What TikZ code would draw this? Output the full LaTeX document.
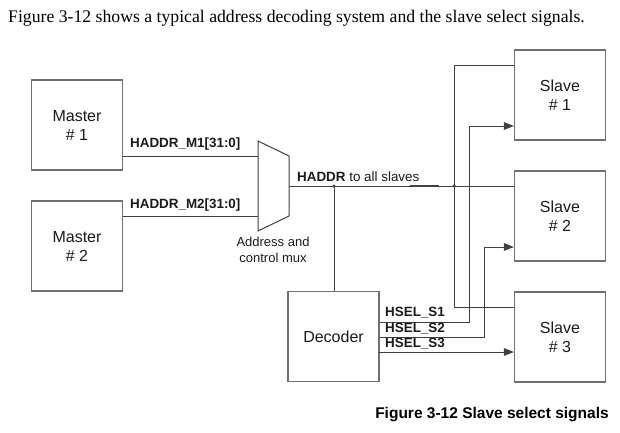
\documentclass[tikz,border=0pt]{standalone}
\usepackage{fontspec}
\setmainfont{Liberation Serif}
\setsansfont{Liberation Sans}
\usetikzlibrary{arrows.meta}
\definecolor{boxc}{HTML}{707070}
\definecolor{linec}{HTML}{404040}
\definecolor{txtc}{HTML}{1A1A1A}
\begin{document}
\begin{tikzpicture}[x=1pt,y=-1pt,
  blk/.style={draw=boxc,line width=1.1pt,minimum width=91pt,minimum height=90pt,inner sep=0pt,
    align=center,font=\sffamily\fontsize{16}{19}\selectfont,text=txtc},
  wire/.style={draw=linec,line width=1pt},
  arr/.style={wire,-{Triangle[length=10pt,width=7.5pt]}},
  sig/.style={font=\sffamily\bfseries\fontsize{13.4}{15}\selectfont,text=txtc,inner sep=0pt},
  dot/.style={circle,fill=linec,inner sep=0pt,minimum size=3.5pt}]
\useasboundingbox (0,0) rectangle (620,432);
\node[anchor=west,inner sep=0pt,font=\fontsize{17.7}{20}\selectfont,text=black] (title) at (8,18)
  {Figure 3-12 shows a typical address decoding system and the slave select signals.};
% blocks
\node[blk] (m1) at (77,125) {Master\\\# 1};
\node[blk] (m2) at (77,246) {Master\\\# 2};
\node[blk] (s1) at (560,95) {Slave\\\# 1};
\node[blk] (s2) at (560,216) {Slave\\\# 2};
\node[blk] (s3) at (560,337) {Slave\\\# 3};
\node[blk] (dec) at (333.5,336.5) {Decoder};
% mux
\coordinate (mtl) at (258,141);
\coordinate (mtr) at (289,156);
\coordinate (mbr) at (289,216);
\coordinate (mbl) at (258,231);
\draw[draw=linec,line width=1pt] (mtl) -- (mtr) -- (mbr) -- (mbl) -- cycle;
\coordinate (mi1) at (258,156);
\coordinate (mi2) at (258,216);
\coordinate (mo) at (289,186);
\node[align=center,font=\sffamily\fontsize{13}{15.5}\selectfont,text=txtc,inner sep=0pt] (muxl) at (273,250) {Address and\\control mux};
% master -> mux
\draw[wire] (m1.east |- mi1) -- (mi1);
\draw[wire] (m2.east |- mi2) -- (mi2);
\node[sig,anchor=west] (l1) at (130,144) {HADDR\_M1[31:0]};
\node[sig,anchor=west] (l2) at (130,205) {HADDR\_M2[31:0]};
% HADDR bus
\coordinate (d1) at (334,186);
\coordinate (d2) at (454,186);
\draw[wire] (mo) -- (mo -| s2.west);
\draw[draw=linec,line width=1.8pt] (410,186) -- (439,186);
\node[anchor=west,inner sep=0pt,font=\sffamily\fontsize{13.4}{15}\selectfont,text=txtc] (hl) at (297,177) {\textbf{HADDR} to all slaves};
\draw[wire] (d1) -- (d1 |- dec.north);
\coordinate (t1) at (454,65);
\coordinate (t3) at (454,307);
\draw[wire] (t1 -| s1.west) -- (t1) -- (t3) -- (t3 -| s3.west);
\node[dot] at (d1) {};
\node[dot] at (d2) {};
% HSEL
\coordinate (h1) at (469,322);
\coordinate (h1t) at (469,126);
\coordinate (h2) at (484,337);
\coordinate (h2t) at (484,247);
\coordinate (h3) at (379,352);
\draw[arr] (dec.east |- h1) -- (h1) -- (h1t) -- (h1t -| s1.west);
\draw[arr] (dec.east |- h2) -- (h2) -- (h2t) -- (h2t -| s2.west);
\draw[arr] (h3) -- (h3 -| s3.west);
\node[sig,anchor=west] (hs1) at (385,313) {HSEL\_S1};
\node[sig,anchor=west] (hs2) at (385,328.5) {HSEL\_S2};
\node[sig,anchor=west] (hs3) at (385,343.5) {HSEL\_S3};
% caption
\node[inner sep=0pt,font=\sffamily\bfseries\fontsize{15.5}{18}\selectfont,text=black] (cap) at (492,415) {Figure 3-12 Slave select signals};
\end{tikzpicture}
\end{document}
